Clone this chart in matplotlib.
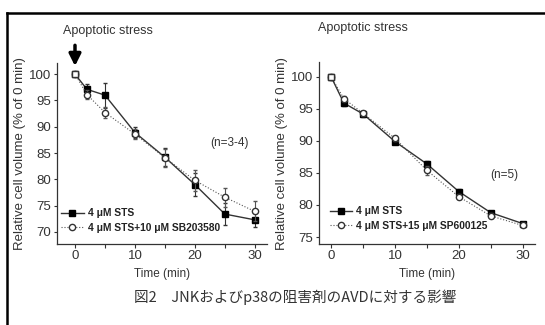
import matplotlib
matplotlib.use("Agg")
import matplotlib.pyplot as plt
from matplotlib.lines import Line2D

plt.rcParams['font.family'] = ['Liberation Sans', 'Noto Sans CJK JP', 'DejaVu Sans']

# ---- data ----
time = [0, 2, 5, 10, 15, 20, 25, 30]

# left panel (p38 inhibitor)
left_sts = [100, 97.1, 96.0, 88.9, 84.2, 79.0, 73.4, 72.3]
left_sts_err = [0, 1.0, 2.4, 1.0, 1.7, 2.2, 2.1, 1.4]
left_inh = [100, 96.1, 92.7, 88.6, 84.1, 79.8, 76.6, 73.9]
left_inh_err = [0, 0.9, 1.0, 0.9, 1.7, 2.0, 1.8, 1.9]

# right panel (JNK inhibitor)
right_sts = [100, 95.9, 94.2, 89.9, 86.4, 82.1, 78.8, 77.1]
right_sts_err = [0, 0.4, 0.4, 0.4, 0.5, 0.4, 0.3, 0.3]
right_inh = [100, 96.6, 94.3, 90.4, 85.4, 81.3, 78.3, 76.8]
right_inh_err = [0, 0.4, 0.4, 0.4, 0.7, 0.4, 0.4, 0.3]

left_labels = ['4 \u03bcM STS', '4 \u03bcM STS+10 \u03bcM SB203580']
right_labels = ['4 \u03bcM STS', '4 \u03bcM STS+15 \u03bcM SP600125']
xticks = [0, 10, 20, 30]
left_yticks = [70, 75, 80, 85, 90, 95, 100]
right_yticks = [75, 80, 85, 90, 95, 100]

ylabel = 'Relative cell volume (% of 0 min)'
xlabel = 'Time (min)'
caption = '図2　JNKおよびp38の阻害剤のAVDに対する影響'

fig = plt.figure(figsize=(5.45, 3.25), dpi=100)
fig.patch.set_facecolor('white')

axL = fig.add_axes([0.1046, 0.249, 0.385, 0.557])
axR = fig.add_axes([0.5853, 0.249, 0.396, 0.560])

TXT = '#333333'

def draw(ax, sts, sts_err, inh, inh_err, labels, yticks, xlim, ylim, nlabel, npos, legpos):
    ax.errorbar(time, sts, yerr=sts_err, color='#333333', lw=1.0, marker='s',
                ms=4.5, mfc='black', mec='black', capsize=1.5, elinewidth=0.8,
                zorder=3)
    ax.errorbar(time, inh, yerr=inh_err, color='#555555', lw=0.8, ls=':',
                marker='o', ms=4.5, mfc='white', mec='#333333', capsize=1.5,
                elinewidth=0.8, zorder=4)
    ax.plot(time[:1], inh[:1], ls='none', marker='s', ms=4.5, mfc='white',
            mec='#333333', zorder=5)
    ax.set_xlim(*xlim)
    ax.set_ylim(*ylim)
    ax.set_xticks(xticks)
    ax.set_xticks([5, 15, 25], minor=True)
    ax.set_yticks(yticks)
    ax.tick_params(axis='both', which='both', direction='out', length=3,
                   width=0.8, colors='#333333', labelsize=9.5, pad=1.5)
    ax.tick_params(axis='y', length=2.5)
    for s in ['top', 'right']:
        ax.spines[s].set_visible(False)
    for s in ['left', 'bottom']:
        ax.spines[s].set_linewidth(0.9)
        ax.spines[s].set_color('#333333')
    ax.set_xlabel(xlabel, fontsize=8.5, color=TXT, labelpad=4)
    ax.set_ylabel(ylabel, fontsize=9.5, color=TXT, labelpad=2)
    ax.text(npos[0], npos[1], nlabel, transform=ax.transAxes, fontsize=8.5,
            color=TXT, ha='center', va='center')
    handles = [
        Line2D([], [], color='#333333', lw=1.0, marker='s', ms=4.5,
               mfc='black', mec='black'),
        Line2D([], [], color='#555555', lw=0.8, ls=':', marker='o', ms=4.5,
               mfc='white', mec='#333333'),
    ]
    leg = ax.legend(handles, labels, loc='lower left', bbox_to_anchor=legpos,
                    frameon=False, prop={'size': 7.4, 'weight': 'bold'},
                    handlelength=2.2, handletextpad=0.4, labelspacing=0.45,
                    borderaxespad=0)
    for t in leg.get_texts():
        t.set_color('#222222')

draw(axL, left_sts, left_sts_err, left_inh, left_inh_err, left_labels,
     left_yticks, (-3, 32), (67.7, 102.1), '(n=3-4)', (0.82, 0.56), (0.0, 0.04))
draw(axR, right_sts, right_sts_err, right_inh, right_inh_err, right_labels,
     right_yticks, (-1.9, 31.9), (73.9, 102.3), '(n=5)', (0.86, 0.38), (0.03, 0.05))

# annotations
axL.annotate('', xy=(0, 101.0), xytext=(0, 106.0), xycoords='data',
             annotation_clip=False,
             arrowprops=dict(arrowstyle='-|>,head_width=0.35,head_length=0.7',
                             color='black', lw=2.5))
fig.text(108 / 545, 1 - 31 / 325, 'Apoptotic stress', fontsize=9, color=TXT,
         ha='center', va='center')
fig.text(363 / 545, 1 - 28 / 325, 'Apoptotic stress', fontsize=9, color=TXT,
         ha='center', va='center')

fig.text(295 / 545, 1 - 297 / 325, caption, fontsize=10.5, color='#333333',
         ha='center', va='center', family=['Noto Sans CJK JP', 'DejaVu Sans'])

# outer frame (left and top edges)
fig.add_artist(Line2D([7 / 545, 7 / 545], [0, 1 - 13 / 325], transform=fig.transFigure,
                      color='black', lw=1.8))
fig.add_artist(Line2D([7 / 545, 1], [1 - 13 / 325, 1 - 13 / 325], transform=fig.transFigure,
                      color='black', lw=1.8))

fig.savefig('out.png', dpi=100, facecolor='white')
